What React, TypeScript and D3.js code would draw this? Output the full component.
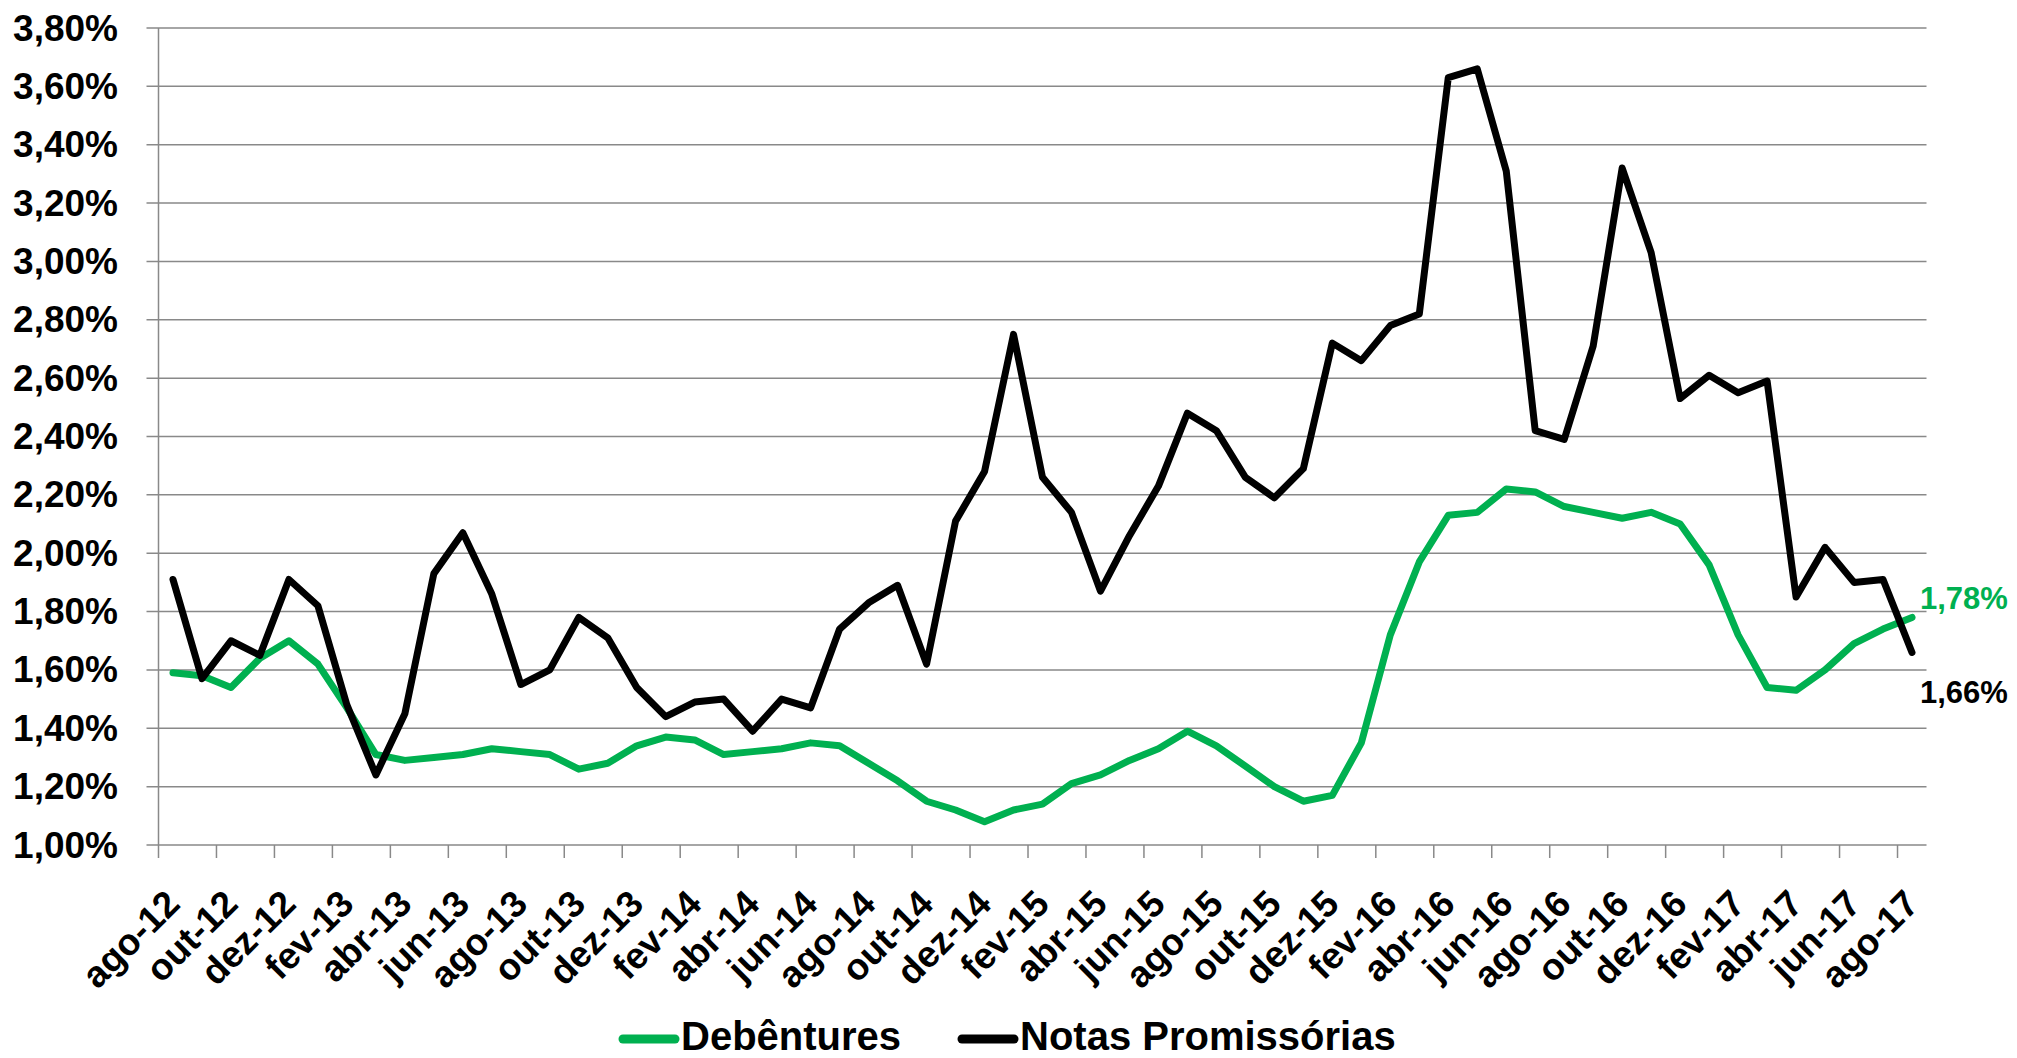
import * as d3 from "d3";
import React from "react";

const categories = [
  "ago-12", "set-12", "out-12", "nov-12", "dez-12",
  "jan-13", "fev-13", "mar-13", "abr-13", "mai-13", "jun-13", "jul-13", "ago-13", "set-13", "out-13", "nov-13", "dez-13",
  "jan-14", "fev-14", "mar-14", "abr-14", "mai-14", "jun-14", "jul-14", "ago-14", "set-14", "out-14", "nov-14", "dez-14",
  "jan-15", "fev-15", "mar-15", "abr-15", "mai-15", "jun-15", "jul-15", "ago-15", "set-15", "out-15", "nov-15", "dez-15",
  "jan-16", "fev-16", "mar-16", "abr-16", "mai-16", "jun-16", "jul-16", "ago-16", "set-16", "out-16", "nov-16", "dez-16",
  "jan-17", "fev-17", "mar-17", "abr-17", "mai-17", "jun-17", "jul-17", "ago-17",
];

// every second month gets a label
const xTickLabels = categories.filter((_, i) => i % 2 === 0);

const debentures = [
  1.59, 1.58, 1.54, 1.64, 1.7, 1.62, 1.47, 1.31, 1.29, 1.3, 1.31, 1.33, 1.32, 1.31, 1.26, 1.28, 1.34,
  1.37, 1.36, 1.31, 1.32, 1.33, 1.35, 1.34, 1.28, 1.22, 1.15, 1.12, 1.08,
  1.12, 1.14, 1.21, 1.24, 1.29, 1.33, 1.39, 1.34, 1.27, 1.2, 1.15, 1.17,
  1.35, 1.72, 1.97, 2.13, 2.14, 2.22, 2.21, 2.16, 2.14, 2.12, 2.14, 2.1,
  1.96, 1.72, 1.54, 1.53, 1.6, 1.69, 1.74, 1.78,
];

const notasPromissorias = [
  1.91, 1.57, 1.7, 1.65, 1.91, 1.82, 1.48, 1.24, 1.45, 1.93, 2.07, 1.86, 1.55, 1.6, 1.78, 1.71, 1.54,
  1.44, 1.49, 1.5, 1.39, 1.5, 1.47, 1.74, 1.83, 1.89, 1.62, 2.11, 2.28,
  2.75, 2.26, 2.14, 1.87, 2.06, 2.23, 2.48, 2.42, 2.26, 2.19, 2.29, 2.72,
  2.66, 2.78, 2.82, 3.63, 3.66, 3.31, 2.42, 2.39, 2.71, 3.32, 3.03, 2.53,
  2.61, 2.55, 2.59, 1.85, 2.02, 1.9, 1.91, 1.66,
];

const yTicks = [1.0, 1.2, 1.4, 1.6, 1.8, 2.0, 2.2, 2.4, 2.6, 2.8, 3.0, 3.2, 3.4, 3.6, 3.8];

const series = [
  { name: "Debêntures", values: debentures, color: "#00B050", endLabel: "1,78%", labelDy: -19 },
  { name: "Notas Promissórias", values: notasPromissorias, color: "#000000", endLabel: "1,66%", labelDy: 40 },
];

const W = 2017;
const H = 1058;
const FONT = "'Liberation Sans', Arial, sans-serif";
const GRID = "#898989";

const fmt = (v: number) => v.toFixed(2).replace(".", ",") + "%";

export default function App(): React.ReactElement {
  const plot = { left: 158.5, right: 1926.5, top: 28, bottom: 845 };

  const x = d3.scaleBand<string>().domain(categories).range([plot.left, plot.right]).padding(0);
  const bw = x.bandwidth();
  const cx = (c: string) => (x(c) ?? 0) + bw / 2;

  const y = d3.scaleLinear().domain([1, 3.8]).range([plot.bottom, plot.top]);

  const line = d3
    .line<number>()
    .x((_, i) => cx(categories[i]))
    .y((d) => y(d));

  const last = categories[categories.length - 1];

  return (
    <svg
      width={W}
      height={H}
      style={{ position: "absolute", left: 0, top: 0, background: "#fff" }}
      fontFamily={FONT}
      fontWeight="bold"
    >
      {/* horizontal gridlines + y ticks */}
      {yTicks.map((t) => (
        <g key={`yt-${t}`}>
          <line x1={plot.left - 12} x2={plot.right} y1={y(t)} y2={y(t)} stroke={GRID} strokeWidth={1.5} />
          <text x={118} y={y(t)} textAnchor="end" dominantBaseline="central" fontSize={37} fill="#000">
            {fmt(t)}
          </text>
        </g>
      ))}

      {/* vertical axis */}
      <line x1={plot.left} x2={plot.left} y1={plot.top} y2={plot.bottom + 13} stroke={GRID} strokeWidth={1.5} />

      {/* x ticks, one every two months */}
      {categories.map((c, i) =>
        i % 2 === 0 && i > 0 ? (
          <line key={`xt-${c}`} x1={x(c)} x2={x(c)} y1={plot.bottom} y2={plot.bottom + 13} stroke={GRID} strokeWidth={1.5} />
        ) : null
      )}

      {/* x labels */}
      {xTickLabels.map((c) => (
        <text
          key={`xl-${c}`}
          transform={`translate(${cx(c)},897) rotate(-45)`}
          textAnchor="end"
          dominantBaseline="central"
          fontSize={37}
          fill="#000"
        >
          {c}
        </text>
      ))}

      {/* lines */}
      {series.map((s) => (
        <path
          key={s.name}
          d={line(s.values) ?? ""}
          fill="none"
          stroke={s.color}
          strokeWidth={7}
          strokeLinejoin="round"
          strokeLinecap="round"
        />
      ))}

      {/* end labels */}
      {series.map((s) => (
        <text
          key={`end-${s.name}`}
          x={cx(last) + 8}
          y={y(s.values[s.values.length - 1]) + s.labelDy}
          dominantBaseline="central"
          fontSize={31}
          fill={s.color}
        >
          {s.endLabel}
        </text>
      ))}

      {/* legend */}
      {series.map((s, i) => {
        const lx = i === 0 ? 619 : 958;
        return (
          <g key={`leg-${s.name}`}>
            <line x1={lx + 4} x2={lx + 56} y1={1039} y2={1039} stroke={s.color} strokeWidth={9} strokeLinecap="round" />
            <text x={lx + 62} y={1050} fontSize={40} fill="#000">
              {s.name}
            </text>
          </g>
        );
      })}
    </svg>
  );
}
